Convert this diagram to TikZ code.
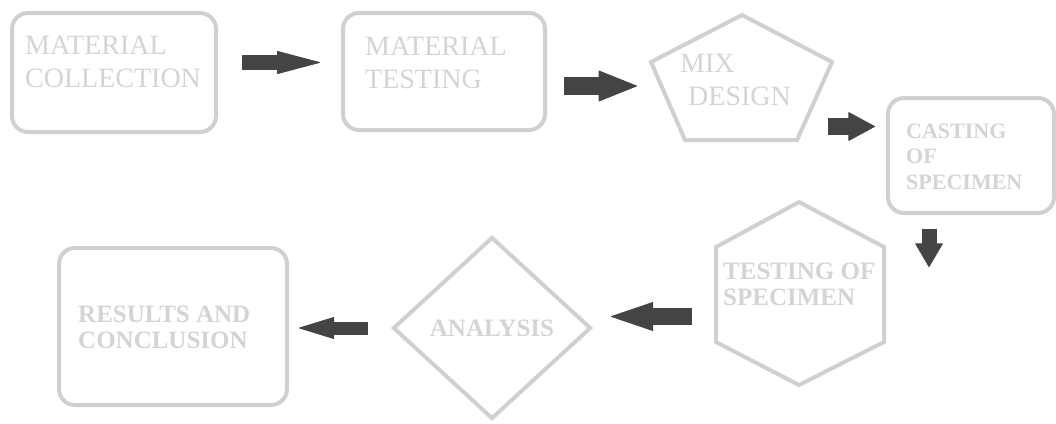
\documentclass[tikz,border=0pt]{standalone}
\usepackage{fontspec}
\setmainfont{Liberation Serif}
\usetikzlibrary{arrows.meta}
\usetikzlibrary{shapes.geometric}
\usetikzlibrary{calc}
\definecolor{boxgray}{RGB}{208,208,208}
\definecolor{txtgray}{RGB}{212,212,212}
\definecolor{arrgray}{RGB}{68,68,68}
\tikzset{
  rbox/.style={draw=boxgray, line width=4, rounded corners=16, inner sep=0},
  shp/.style={draw=boxgray, line width=4},
  dmd/.style={diamond, draw=boxgray, line width=4, inner sep=0, text=txtgray,
    font=\bfseries\fontsize{25}{26}\selectfont},
  lbl/.style={text=txtgray, font=\fontsize{28}{32.5}\selectfont, align=left, inner sep=0},
  blbl/.style={text=txtgray, font=\bfseries\fontsize{25}{26}\selectfont, align=left, inner sep=0},
  fat/.style n args={3}{draw=arrgray, line width=#1,
    -{Triangle[length=#2pt, width=#3pt, line width=0.8pt, round]}}
}

\begin{document}
\begin{tikzpicture}[x=1pt, y=-1pt]
\useasboundingbox (0,0) rectangle (1056,423);

\node[rbox, minimum width=204, minimum height=119] (mc) at (114,72.5) {};
\node[rbox, minimum width=202, minimum height=117] (mt) at (444,71.5) {};
\node[rbox, minimum width=166, minimum height=115] (cs) at (971,155.5) {};
\node[rbox, minimum width=228, minimum height=157] (rc) at (173,326.5) {};
\node[dmd, minimum width=198, minimum height=182] (an) at (492,328) {ANALYSIS};

% pentagon and hexagon
\draw[shp] (742,15) coordinate (mixN) -- (832,62) coordinate (mixE)
  -- (797,140) coordinate (mixSE) -- (685,140) coordinate (mixSW)
  -- (651,62) coordinate (mixW) -- cycle;
\draw[shp] (799,202) coordinate (tsN) -- (884,247) coordinate (tsNE)
  -- (884,342) coordinate (tsSE) -- (799,385) coordinate (tsS)
  -- (716,342) coordinate (tsSW) -- (716,247) coordinate (tsNW) -- cycle;

% labels (base = last line)
\node[lbl, anchor=base west] (mctxt) at (25,87) {MATERIAL\\COLLECTION};
\node[lbl, anchor=base west] (mttxt) at (365,88) {MATERIAL\\TESTING};
\node[lbl, anchor=base west] (mix) at (680,105) {MIX\\\hspace*{8pt}DESIGN};
\node[blbl, anchor=base west, font=\bfseries\fontsize{22}{25.5}\selectfont] (cstxt) at (906,189) {CASTING\\OF\\SPECIMEN};
\node[blbl, anchor=base west] (ts) at (723,305) {TESTING OF\\SPECIMEN};
\node[blbl, anchor=base west] (rctxt) at (78,348) {RESULTS AND\\CONCLUSION};

% arrows
\draw[fat={15}{44}{23}] ($(mc.east)+(24,-10)$) -- ($(mt.west)+(-21,-9)$);
\draw[fat={18}{39}{31}] ($(mt.east)+(17,14.5)$) -- ($(mixW)+(-14,24)$);
\draw[fat={17}{27}{29}] ($(mixSE)+(31,-13.5)$) -- ($(cs.west)+(-11,-29)$);
\draw[fat={15}{24}{28}] ($(cs.south)+(-42,14)$) -- ($(tsNE)+(45,20)$);
\draw[fat={17}{43}{29}] ($(tsSW)+(-24,-25.5)$) -- ($(an.east)+(18,-11.5)$);
\draw[fat={13}{36}{22}] ($(an.west)+(-23,0)$) -- ($(rc.east)+(10,1.5)$);

\end{tikzpicture}
\end{document}
